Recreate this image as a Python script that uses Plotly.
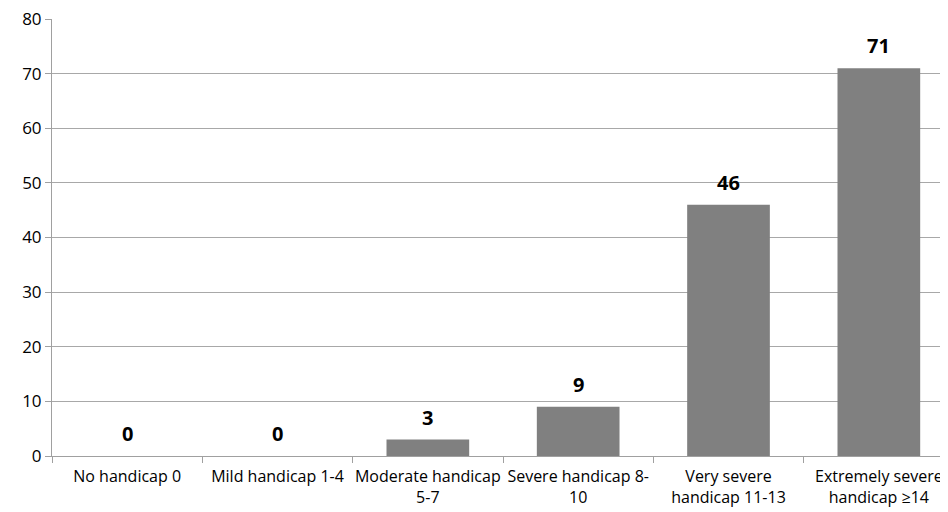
import plotly.graph_objects as go

categories = ["No handicap 0", "Mild handicap 1-4", "Moderate handicap<br>5-7",
              "Severe handicap 8-<br>10", "Very severe<br>handicap 11-13",
              "Extremely severe<br>handicap ≥14"]
values = [0, 0, 3, 9, 46, 71]
y_ticks = [0, 10, 20, 30, 40, 50, 60, 70, 80]

FONT = "Open Sans, Lato, sans-serif"

fig = go.Figure()
fig.add_trace(go.Bar(
    x=categories, y=values,
    marker=dict(color="#808080", line=dict(width=0)),
    width=0.55,
    hoverinfo="skip",
))
for c, v in zip(categories, values):
    fig.add_annotation(x=c, y=v, text=f"<b>{v}</b>", showarrow=False,
                       yanchor="bottom", yshift=7,
                       font=dict(family=FONT, size=20, color="#000000"))

fig.update_layout(
    width=940, height=504,
    margin=dict(l=44, r=0, t=11, b=56),
    paper_bgcolor="white", plot_bgcolor="white",
    showlegend=False,
    bargap=0.45,
    font=dict(family=FONT, size=16, color="#000000"),
)
fig.update_xaxes(
    range=[-0.5, 5.46], automargin=False, tickangle=0,
    ticklabeloverflow="allow", ticklabelstandoff=6,
    showline=True, linecolor="#a0a0a0", linewidth=1,
    ticks="outside", tickson="boundaries", ticklen=6, tickcolor="#a0a0a0",
    showgrid=False, tickfont=dict(family=FONT, size=16),
)
fig.update_yaxes(
    range=[0, 80], tickvals=y_ticks, automargin=False,
    ticklabeloverflow="allow",
    showline=True, linecolor="#a0a0a0", linewidth=1,
    ticks="outside", ticklen=6, tickcolor="#a0a0a0",
    showgrid=True, gridcolor="#a8a8a8", gridwidth=1,
    tickfont=dict(family=FONT, size=17), zeroline=False,
)

fig.write_html("out.html")
